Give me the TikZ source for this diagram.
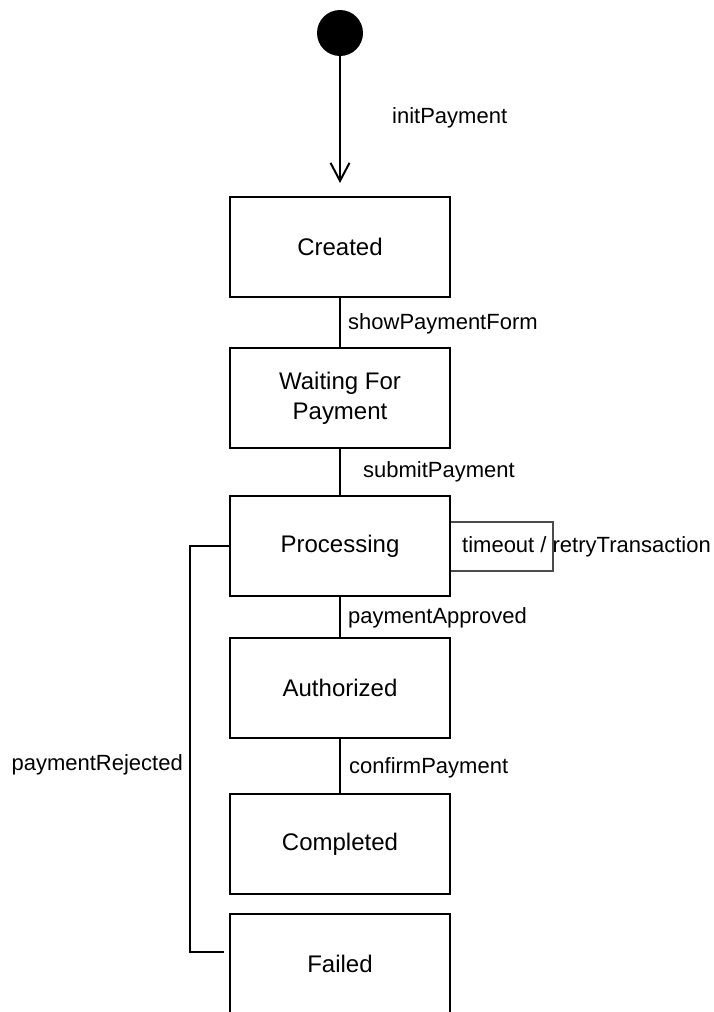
\documentclass[tikz,border=0pt]{standalone}
\usepackage{fontspec}
\setmainfont{Liberation Sans}
\usetikzlibrary{arrows.meta,calc}

\tikzset{
  state/.style={draw=black, line width=2pt, fill=white, minimum width=220pt,
    minimum height=100pt, inner sep=0pt, align=center,
    font=\fontsize{24}{30}\selectfont},
  initial/.style={circle, fill=black, minimum size=46pt, inner sep=0pt},
  trans/.style={draw=black, line width=2pt},
  looptrans/.style={draw=black!70, line width=2.4pt},
  evlabel/.style={inner sep=0pt, anchor=west, font=\fontsize{22}{26}\selectfont},
}

\begin{document}
\begin{tikzpicture}[x=1pt, y=-1pt]
  \useasboundingbox (0,0) rectangle (713,1012);

  % states
  \node[initial] (start) at (340,33) {};
  \node[state] (created)   at (340,247) {Created};
  \node[state] (waiting)   at (340,398) {Waiting For\\Payment};
  \node[state] (proc)      at (340,546) {Processing};
  \node[state] (auth)      at (340,688) {Authorized};
  \node[state] (completed) at (340,844) {Completed};
  \node[state] (failed)    at (340,964) {Failed};

  % initial transition (stops short of the first state)
  \coordinate (inittip) at (340,183);
  \draw[trans, -{Straight Barb[length=18pt, width=19pt, line width=2pt]}]
    (start) -- (inittip);
  \node[evlabel] (linit) at (392,118) {initPayment};

  % main flow
  \draw[trans] (created) -- (waiting);
  \node[evlabel] (lshow) at (348,324) {showPaymentForm};
  \draw[trans] (waiting) -- (proc);
  \node[evlabel] (lsubmit) at (363,472) {submitPayment};
  \draw[trans] (proc) -- (auth);
  \node[evlabel] (lapproved) at (348,618) {paymentApproved};
  \draw[trans] (auth) -- (completed);
  \node[evlabel] (lconfirm) at (349,768) {confirmPayment};

  % retry self-transition on Processing
  \node[evlabel] (lretry) at (462,547) {timeout / retryTransaction};
  \draw[looptrans] ($(proc.east)+(0,-24)$) -- ++(102,0) -- ++(0,49)
    -- ($(proc.east)+(0,25)$);

  % rejection path to Failed
  \coordinate (rejtop) at (190,0);
  \draw[trans] (proc.west) -- (proc.west -| rejtop)
    -- ($(failed.west -| rejtop)+(0,-12)$) -- ($(failed.west)+(-5,-12)$);
  \node[evlabel, anchor=east] (lreject) at (183,765) {paymentRejected};
\end{tikzpicture}
\end{document}
